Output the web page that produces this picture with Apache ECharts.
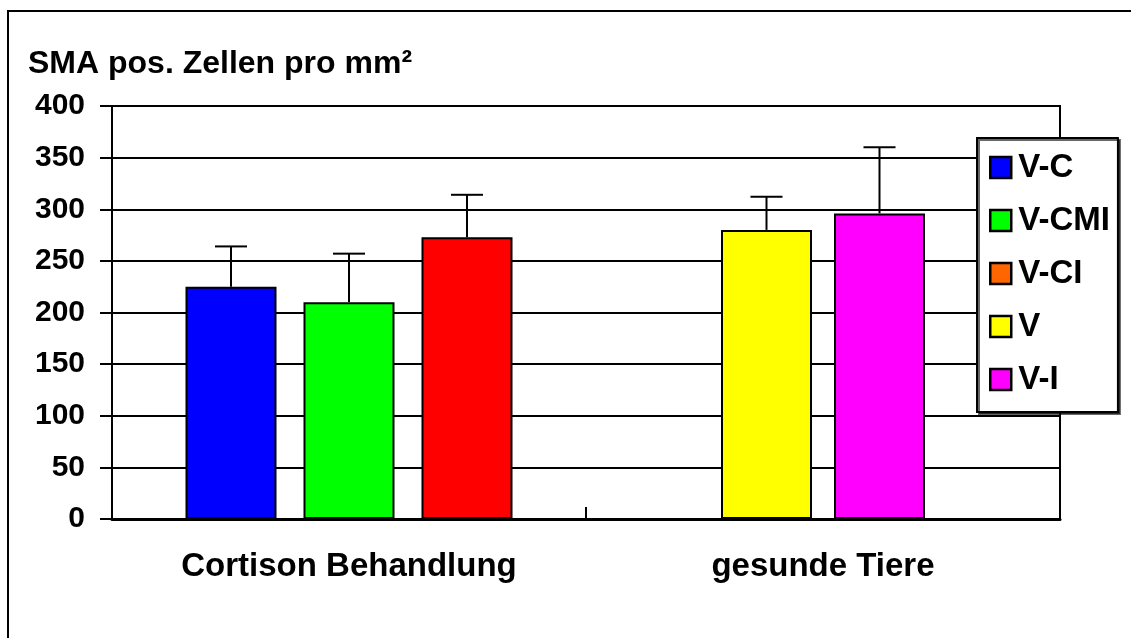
<!DOCTYPE html>
<html>
<head>
<meta charset="utf-8">
<script src="https://cdn.jsdelivr.net/npm/echarts@6/dist/echarts.min.js"></script>
<style>
  html, body { margin: 0; padding: 0; background: #fff; }
  #chart { width: 1131px; height: 638px; }
</style>
</head>
<body>
<div id="chart"></div>
<script>
// Daten
const categories = ['Cortison Behandlung', 'gesunde Tiere'];
const seriesNames = ['V-C', 'V-CMI', 'V-CI', 'V', 'V-I'];
const means = [225, 210, 273, 280, 296];
const errors = [39, 47, 41, 32, 64];
const groupOf = [0, 0, 0, 1, 1];
const yTicks = [0, 50, 100, 150, 200, 250, 300, 350, 400];

const barColors = ['#0000ff', '#00ff00', '#ff0000', '#ffff00', '#ff00ff'];
const legendColors = ['#0000ff', '#00ff00', '#ff6600', '#ffff00', '#ff00ff'];

const font = 'Liberation Sans, Arial, sans-serif';
const barWidth = 91;
const gaps = [27, 22];

const chart = echarts.init(document.getElementById('chart'));

const barSeries = seriesNames.map((name, i) => ({
  name: name,
  type: 'bar',
  xAxisIndex: groupOf[i],
  barWidth: barWidth,
  barGap: (gaps[groupOf[i]] / barWidth * 100) + '%',
  itemStyle: { color: barColors[i], borderColor: '#000', borderWidth: 2 },
  data: categories.map((c, j) => (j === groupOf[i] ? means[i] : '-')),
}));

// Fehlerbalken (nur nach oben) je Gruppe
const errSeries = [0, 1].map((g) => {
  const members = seriesNames.map((n, i) => i).filter((i) => groupOf[i] === g);
  return {
    type: 'custom',
    xAxisIndex: g,
    z: 3,
    silent: true,
    data: members.map((i, slot) => [g, means[i], means[i] + errors[i], slot, members.length]),
    renderItem: (params, api) => {
      const base = api.coord([api.value(0), api.value(1)]);
      const top = api.coord([api.value(0), api.value(2)]);
      const n = api.value(4);
      const x = base[0] + (api.value(3) - (n - 1) / 2) * (barWidth + gaps[g]);
      const style = { stroke: '#000', lineWidth: 2 };
      return {
        type: 'group',
        children: [
          { type: 'line', shape: { x1: x, y1: base[1], x2: x, y2: top[1] }, style: style },
          { type: 'line', shape: { x1: x - 16, y1: top[1], x2: x + 16, y2: top[1] }, style: style },
        ],
      };
    },
  };
});

const option = {
  backgroundColor: '#fff',
  animation: false,
  textStyle: { fontFamily: font },
  graphic: [
    {
      type: 'rect',
      z: -10,
      shape: { x: 8, y: 11, width: 1140, height: 640 },
      style: { fill: 'none', stroke: '#000', lineWidth: 2 },
    },
  ],
  title: {
    text: 'SMA pos. Zellen pro mm²',
    left: 28,
    top: 48,
    padding: 0,
    textStyle: { fontFamily: font, fontSize: 32, fontWeight: 'bold', color: '#000' },
  },
  legend: {
    orient: 'vertical',
    left: 977,
    top: 138,
    padding: [13, 8, 16, 12],
    itemGap: 20,
    itemWidth: 21,
    itemHeight: 21,
    backgroundColor: '#fff',
    borderColor: '#000',
    borderWidth: 2,
    shadowColor: 'rgba(0,0,0,0.6)',
    shadowOffsetX: 2,
    shadowOffsetY: 2,
    shadowBlur: 0,
    icon: 'rect',
    itemStyle: { borderColor: '#000', borderWidth: 2.5 },
    textStyle: { fontFamily: font, fontSize: 33, fontWeight: 'bold', color: '#000', lineHeight: 33, padding: [0, 0, 0, 2] },
    data: seriesNames.map((name, i) => ({ name: name, itemStyle: { color: legendColors[i] } })),
  },
  grid: {
    left: 112,
    right: 71,
    top: 106,
    bottom: 119,
    show: true,
    borderColor: '#000',
    borderWidth: 2,
  },
  xAxis: [
    {
      type: 'category',
      data: categories,
      axisLine: { lineStyle: { color: '#000', width: 3 } },
      axisTick: { show: true, interval: 0, inside: true, length: 12, lineStyle: { color: '#000', width: 2 } },
      axisLabel: { fontFamily: font, fontSize: 33, fontWeight: 'bold', color: '#000', margin: 31 },
    },
    {
      type: 'category',
      data: categories,
      show: false,
    },
  ],
  yAxis: {
    type: 'value',
    min: yTicks[0],
    max: yTicks[yTicks.length - 1],
    interval: yTicks[1] - yTicks[0],
    axisLine: { show: true, lineStyle: { color: '#000', width: 2 } },
    axisTick: { show: true, length: 12, lineStyle: { color: '#000', width: 2 } },
    axisLabel: { fontFamily: font, fontSize: 30, fontWeight: 'bold', color: '#000', margin: 27 },
    splitLine: { lineStyle: { color: '#000', width: 2 } },
  },
  series: barSeries.concat(errSeries),
};

chart.setOption(option);
</script>
</body>
</html>
